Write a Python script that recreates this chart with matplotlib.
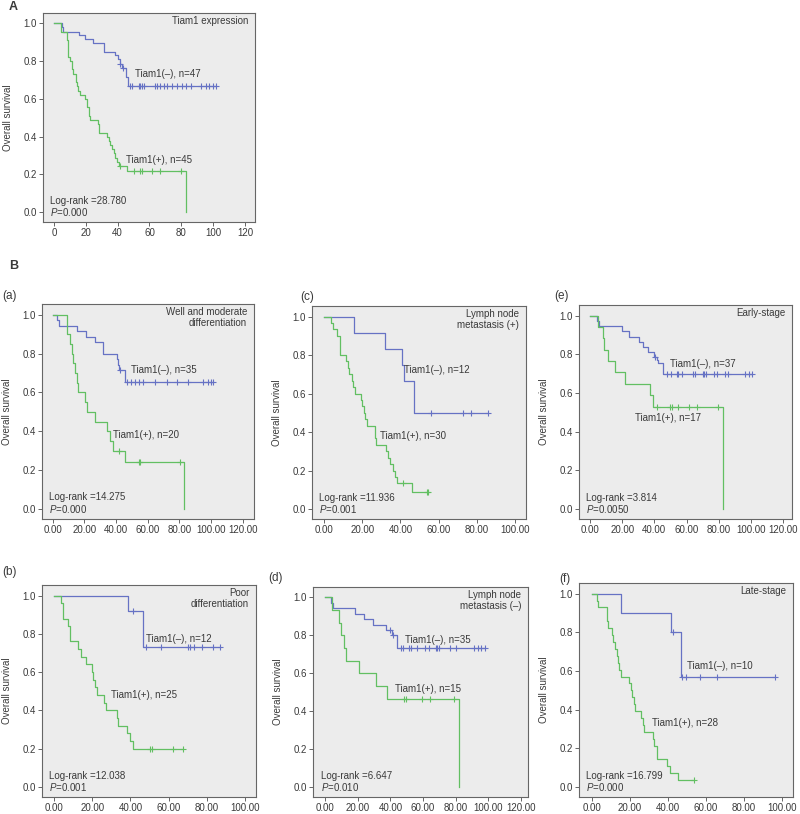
import matplotlib
matplotlib.use('Agg')
import matplotlib.pyplot as plt
import numpy as np

plt.rcParams['font.family'] = ['Liberation Sans', 'DejaVu Sans']
plt.rcParams['mathtext.fontset'] = 'custom'
plt.rcParams['mathtext.rm'] = 'Liberation Sans'
plt.rcParams['mathtext.it'] = 'Liberation Sans:italic'

# ── Data (event times, survival after event, censor times) ──
A_neg_t = [4.8, 5.9, 15.8, 19.6, 24.4, 31.6, 38.5, 40.0, 41.3, 42.7, 45.5, 46.5]
A_neg_s = [0.979, 0.957, 0.936, 0.915, 0.894, 0.851, 0.830, 0.809, 0.787, 0.766, 0.718, 0.670]
A_neg_c = [41.7, 43.2, 47.6, 49.0, 53.3, 54.3, 55.4, 56.8, 63.2, 64.8, 66.9, 69.0, 71.2,
           74.3, 77.5, 80.6, 82.7, 85.9, 92.2, 95.4, 97.5, 99.6, 101.7]
A_pos_t = [4.2, 8.0, 9.0, 10.1, 11.2, 12.2, 13.9, 14.7, 15.4, 16.4, 19.6, 20.6, 21.7, 22.7,
           27.4, 28.4, 33.3, 34.3, 35.4, 36.4, 37.5, 38.5, 39.6, 40.6, 45.9, 82.7]
A_pos_s = [0.956, 0.911, 0.822, 0.800, 0.756, 0.733, 0.689, 0.667, 0.644, 0.622, 0.600, 0.556,
           0.511, 0.489, 0.467, 0.422, 0.400, 0.378, 0.356, 0.333, 0.311, 0.289, 0.267, 0.244,
           0.220, 0.0]
A_pos_c = [41.7, 50.1, 54.3, 55.4, 61.7, 66.9, 79.6]

a_neg_t = [2.9, 4.2, 15.2, 21.0, 26.7, 32.0, 40.4, 41.5, 42.0, 45.9]
a_neg_s = [0.971, 0.943, 0.914, 0.886, 0.857, 0.800, 0.771, 0.743, 0.714, 0.652]
a_neg_c = [42.8, 47.2, 49.5, 52.0, 54.7, 57.3, 64.6, 72.0, 78.3, 85.7, 95.2, 98.3, 99.8, 101.5]
a_pos_t = [8.8, 10.9, 12.0, 13.1, 14.1, 15.6, 16.2, 20.4, 21.9, 26.7, 34.5, 36.2, 38.3, 45.7, 82.9]
a_pos_s = [0.90, 0.85, 0.80, 0.75, 0.70, 0.65, 0.60, 0.55, 0.50, 0.45, 0.40, 0.35, 0.30, 0.24, 0.0]
a_pos_c = [42.1, 54.7, 55.2, 80.4]

b_neg_t = [38.9, 46.8]
b_neg_s = [0.917, 0.733]
b_neg_c = [41.5, 48.0, 56.0, 70.3, 71.2, 73.3, 77.3, 83.4, 86.9]
b_pos_t = [3.7, 4.5, 7.5, 8.4, 12.7, 14.0, 16.8, 19.7, 20.6, 21.5, 22.3, 26.4, 27.2, 32.8,
           33.7, 38.0, 39.8, 41.5]
b_pos_s = [0.96, 0.88, 0.84, 0.76, 0.72, 0.68, 0.64, 0.60, 0.56, 0.52, 0.48, 0.44, 0.40, 0.36,
           0.32, 0.28, 0.24, 0.20]
b_pos_c = [50.3, 51.1, 62.1, 67.4]

c_neg_t = [15.7, 31.9, 41.0, 41.9, 47.1]
c_neg_s = [0.917, 0.833, 0.750, 0.667, 0.500]
c_neg_c = [55.8, 72.6, 76.8, 86.0]
c_pos_t = [3.5, 4.5, 6.6, 8.4, 11.5, 12.7, 13.3, 14.5, 15.4, 16.2, 19.2, 19.9, 20.8, 21.5,
           22.7, 26.7, 27.2, 32.5, 33.3, 34.6, 36.0, 37.2, 38.0, 45.9]
c_pos_s = [0.967, 0.933, 0.900, 0.800, 0.767, 0.733, 0.700, 0.667, 0.633, 0.600, 0.567, 0.533,
           0.500, 0.467, 0.433, 0.367, 0.333, 0.300, 0.267, 0.233, 0.200, 0.167, 0.133, 0.089]
c_pos_c = [41.5, 53.8, 54.6]

d_neg_t = [3.2, 4.6, 18.2, 23.7, 29.4, 37.0, 41.1, 43.8]
d_neg_s = [0.971, 0.943, 0.914, 0.886, 0.857, 0.829, 0.800, 0.735]
d_neg_c = [40.0, 41.6, 46.3, 47.7, 51.4, 52.4, 56.5, 61.2, 63.7, 67.8, 68.8, 69.8, 76.4,
           80.1, 91.4, 93.5, 95.5, 98.2]
d_pos_t = [3.8, 8.3, 9.9, 11.4, 12.8, 20.6, 30.9, 38.0, 81.8]
d_pos_s = [0.933, 0.867, 0.800, 0.733, 0.667, 0.600, 0.533, 0.467, 0.0]
d_pos_c = [48.3, 49.3, 59.6, 64.3, 79.0]

e_neg_t = [4.1, 5.8, 19.7, 24.4, 30.6, 32.7, 36.2, 39.8, 41.4, 42.5, 45.1]
e_neg_s = [0.973, 0.946, 0.919, 0.892, 0.865, 0.838, 0.811, 0.784, 0.770, 0.757, 0.697]
e_neg_c = [40.6, 47.8, 50.3, 54.0, 55.0, 57.1, 63.8, 65.4, 70.0, 71.0, 72.3, 76.9, 78.9,
           84.1, 85.8, 96.6, 98.6, 100.7]
e_pos_t = [4.8, 7.9, 8.7, 11.4, 15.5, 21.7, 37.3, 38.9, 82.4]
e_pos_s = [0.941, 0.882, 0.824, 0.765, 0.706, 0.647, 0.588, 0.529, 0.0]
e_pos_c = [41.4, 49.7, 50.7, 54.9, 61.7, 66.7, 79.7]

f_neg_t = [15.1, 41.4, 46.7]
f_neg_s = [0.900, 0.800, 0.571]
f_neg_c = [42.5, 47.2, 49.5, 56.8, 66.0, 96.3]
f_pos_t = [2.5, 3.3, 7.7, 8.1, 8.6, 10.4, 11.2, 12.1, 13.0, 13.5, 14.2, 15.1, 19.5, 20.4,
           21.2, 22.1, 22.6, 25.6, 27.0, 27.5, 32.3, 32.8, 34.0, 34.4, 39.3, 41.1, 45.1]
f_pos_s = [0.964, 0.929, 0.893, 0.857, 0.821, 0.786, 0.750, 0.714, 0.679, 0.643, 0.607,
           0.571, 0.536, 0.500, 0.464, 0.429, 0.393, 0.357, 0.321, 0.286, 0.250, 0.214,
           0.179, 0.143, 0.107, 0.071, 0.036]
f_pos_c = [53.9]

BLUE = '#6672c4'
GREEN = '#62bf62'
TXT = '#3a3a3a'

W, H = 800, 814
fig = plt.figure(figsize=(8, 8.14), dpi=100)


def box(l, r, t, b):
    return [l / W, 1 - b / H, (r - l) / W, (b - t) / H]


def km(ax, t, s, c, color):
    t = np.asarray(t); s = np.asarray(s); c = np.asarray(c)
    end = max(t.max(), c.max())
    xs = np.concatenate([[0], t, [end]])
    ys = np.concatenate([[1.0], s, [s[-1]]])
    ax.step(xs, ys, where='post', color=color, lw=0.9)
    idx = np.searchsorted(t, c, side='right')
    cy = np.where(idx > 0, s[np.maximum(idx - 1, 0)], 1.0)
    ax.plot(c, cy, ls='none', marker='+', ms=4, mew=0.8, color=color)


panels = [
    # letter, box, xlim, xmax tick, int ticks, title, neg, pos, labels, logrank, P
    ('', (43, 255, 13, 222), (-6.9, 126.3), 120, True, 'Tiam1 expression',
     (A_neg_t, A_neg_s, A_neg_c), (A_pos_t, A_pos_s, A_pos_c),
     ('Tiam1(–), n=47', 51, 0.733), ('Tiam1(+), n=45', 45, 0.277), '28.780', '0.000'),
    ('(a)', (42, 254, 304, 519), (-6.8, 127.2), 120, False, 'Well and moderate\ndifferentiation',
     (a_neg_t, a_neg_s, a_neg_c), (a_pos_t, a_pos_s, a_pos_c),
     ('Tiam1(–), n=35', 49.3, 0.714), ('Tiam1(+), n=20', 37.9, 0.381), '14.275', '0.000'),
    ('(c)', (312, 526, 306, 519), (-6.3, 105.8), 100, False, 'Lymph node\nmetastasis (+)',
     (c_neg_t, c_neg_s, c_neg_c), (c_pos_t, c_pos_s, c_pos_c),
     ('Tiam1(–), n=12', 41.9, 0.72), ('Tiam1(+), n=30', 29.3, 0.377), '11.936', '0.001'),
    ('(e)', (579, 792, 305, 519), (-6.8, 125.5), 120, False, 'Early-stage',
     (e_neg_t, e_neg_s, e_neg_c), (e_pos_t, e_pos_s, e_pos_c),
     ('Tiam1(–), n=37', 49.7, 0.748), ('Tiam1(+), n=17', 28.0, 0.469), '3.814', '0.0050'),
    ('(b)', (42, 256, 585, 797), (-6.3, 105.8), 100, False, 'Poor\ndifferentiation',
     (b_neg_t, b_neg_s, b_neg_c), (b_pos_t, b_pos_s, b_pos_c),
     ('Tiam1(–), n=12', 48.2, 0.773), ('Tiam1(+), n=25', 29.8, 0.481), '12.038', '0.001'),
    ('(d)', (313, 528, 587, 797), (-7.6, 124.5), 120, False, 'Lymph node\nmetastasis (–)',
     (d_neg_t, d_neg_s, d_neg_c), (d_pos_t, d_pos_s, d_pos_c),
     ('Tiam1(–), n=35', 49.2, 0.775), ('Tiam1(+), n=15', 43.0, 0.518), '6.647', '0.010'),
    ('(f)', (579, 793, 583, 797), (-6.8, 105.8), 100, False, 'Late-stage',
     (f_neg_t, f_neg_s, f_neg_c), (f_pos_t, f_pos_s, f_pos_c),
     ('Tiam1(–), n=10', 50.2, 0.628), ('Tiam1(+), n=28', 31.4, 0.331), '16.799', '0.000'),
]

letter_pos = {'(a)': (2, 296), '(c)': (300, 297), '(e)': (554, 296),
              '(b)': (2, 572), '(d)': (268, 578), '(f)': (559, 579)}

for (letter, bx, xlim, xmax, int_ticks, title, neg, pos, lab_n, lab_p, lr, pv) in panels:
    ax = fig.add_axes(box(*bx))
    ax.set_facecolor('#ececec')
    for sp in ax.spines.values():
        sp.set_color('#666666')
        sp.set_linewidth(0.8)
    km(ax, *neg, BLUE)
    km(ax, *pos, GREEN)
    ax.set_xlim(*xlim)
    ax.set_ylim(-0.052, 1.055)
    ax.set_xticks(np.arange(0, xmax + 1, 20))
    if int_ticks:
        ax.set_xticklabels([f'{v:d}' for v in range(0, xmax + 1, 20)])
    else:
        ax.set_xticklabels([f'{v:.2f}' for v in range(0, xmax + 1, 20)])
    ax.set_yticks(np.arange(0, 1.01, 0.2))
    ax.set_yticklabels([f'{v:.1f}' for v in np.arange(0, 1.01, 0.2)])
    ax.tick_params(length=3, width=0.7, color='#666666', labelsize=7, labelcolor=TXT, pad=1.5)
    ax.set_ylabel('Overall survival', fontsize=7, color=TXT)
    ax.yaxis.set_label_coords(-0.14, 0.5)

    ax.text(0.968, 0.985, title, transform=ax.transAxes, ha='right', va='top',
            fontsize=7, color=TXT, linespacing=1.15)
    ax.text(lab_n[1], lab_n[2], lab_n[0], ha='left', va='center', fontsize=7, color=TXT)
    ax.text(lab_p[1], lab_p[2], lab_p[0], ha='left', va='center', fontsize=7, color=TXT)
    ax.text(0.035, 0.10, f'Log-rank ={lr}', transform=ax.transAxes, ha='left', va='center',
            fontsize=7, color=TXT)
    ax.text(0.035, 0.047, r'$\mathit{P}$=' + pv, transform=ax.transAxes, ha='left',
            va='center', fontsize=7, color=TXT)

    if letter:
        lx, ly = letter_pos[letter]
        fig.text(lx / W, 1 - ly / H, letter, ha='left', va='center', fontsize=8.5, color=TXT)

fig.text(9 / W, 1 - 7 / H, 'A', ha='left', va='center', fontsize=9, fontweight='bold', color=TXT)
fig.text(9 / W, 1 - 266 / H, 'B', ha='left', va='center', fontsize=9, fontweight='bold', color=TXT)

fig.savefig('out.png', dpi=100, facecolor='white')
